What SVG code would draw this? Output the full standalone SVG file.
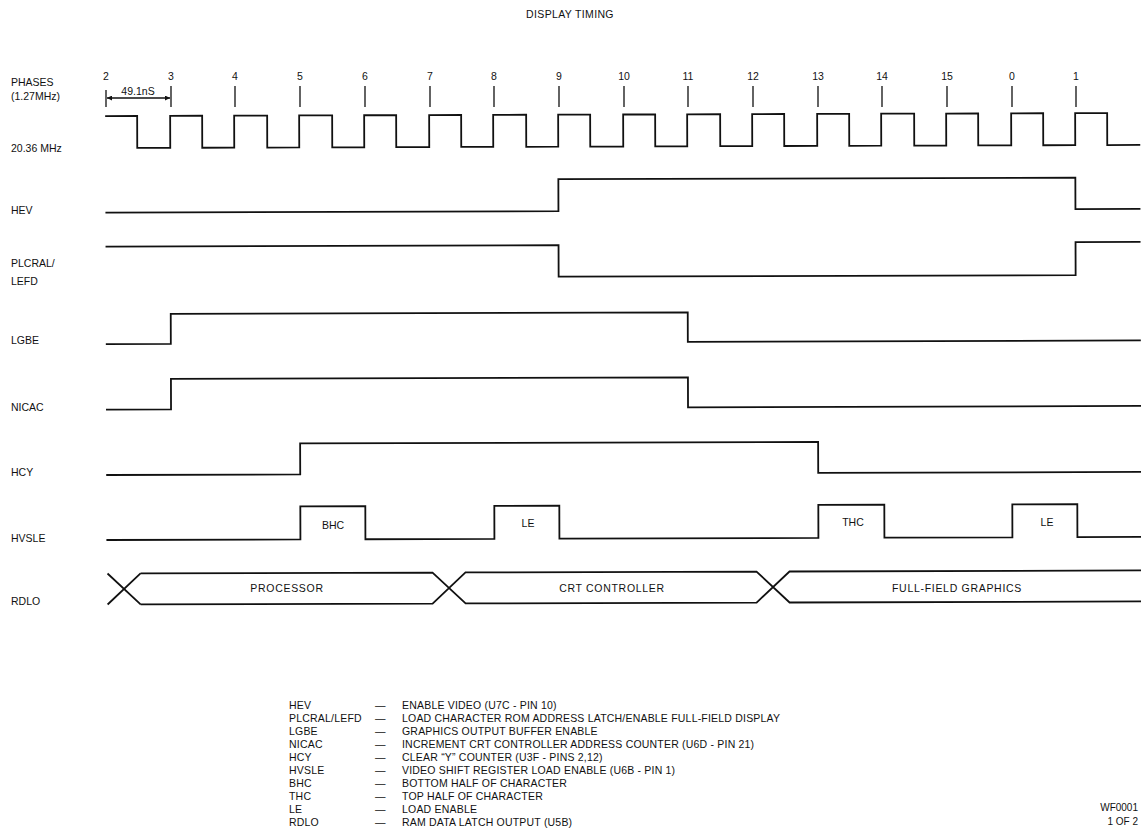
<svg xmlns="http://www.w3.org/2000/svg" width="1141" height="829" viewBox="0 0 1141 829">
<style>
text{font-family:"Liberation Sans",Arial,sans-serif;fill:#111;}
.lbl{font-size:10.5px;}
.num{font-size:10.5px;text-anchor:middle;}
.leg{font-size:10.5px;letter-spacing:0.2px;}
.bus{font-size:10.5px;letter-spacing:0.7px;text-anchor:middle;}
.ctr{text-anchor:middle;}
.w{fill:none;stroke:#111;stroke-width:1.8;stroke-linejoin:miter;}
.t{fill:none;stroke:#111;stroke-width:1.3;}
</style>
<defs>
<marker id="ah" viewBox="0 0 10 10" refX="10" refY="5" markerWidth="7" markerHeight="5" orient="auto-start-reverse" markerUnits="userSpaceOnUse">
<path d="M0,0 L10,5 L0,10 z" fill="#111"/>
</marker>
</defs>
<rect width="1141" height="829" fill="#fff"/>
<text x="570" y="18" class="ctr" style="font-size:10.5px;letter-spacing:0.35px">DISPLAY TIMING</text>

<g id="labels">
<text x="11" y="86" class="lbl">PHASES</text>
<text x="11" y="100" class="lbl">(1.27MHz)</text>
<text x="11" y="152" class="lbl">20.36 MHz</text>
<text x="11" y="214" class="lbl">HEV</text>
<text x="11" y="267" class="lbl">PLCRAL/</text>
<text x="11" y="285" class="lbl">LEFD</text>
<text x="11" y="344" class="lbl">LGBE</text>
<text x="11" y="411" class="lbl">NICAC</text>
<text x="11" y="476" class="lbl">HCY</text>
<text x="11" y="542" class="lbl">HVSLE</text>
<text x="11" y="605" class="lbl">RDLO</text>
</g>

<g id="phases">
<text x="106" y="80" class="num">2</text>
<text x="171" y="80" class="num">3</text>
<text x="235" y="80" class="num">4</text>
<text x="300" y="80" class="num">5</text>
<text x="365" y="80" class="num">6</text>
<text x="430" y="80" class="num">7</text>
<text x="494" y="80" class="num">8</text>
<text x="559" y="80" class="num">9</text>
<text x="624" y="80" class="num">10</text>
<text x="688" y="80" class="num">11</text>
<text x="753" y="80" class="num">12</text>
<text x="818" y="80" class="num">13</text>
<text x="882" y="80" class="num">14</text>
<text x="947" y="80" class="num">15</text>
<text x="1012" y="80" class="num">0</text>
<text x="1076" y="80" class="num">1</text>
<path class="t" d="M106,90V107 M171,86V107 M235,86V107 M300,86V107 M365,86V107 M430,86V107 M494,86V107 M559,86V107 M624,86V107 M688,86V107 M753,86V107 M818,86V107 M882,86V107 M947,86V107 M1012,86V107 M1076,86V107"/>
</g>

<g id="period">
<line x1="107" y1="98" x2="170" y2="98" class="t" marker-start="url(#ah)" marker-end="url(#ah)"/>
<text x="138" y="95" class="ctr" style="font-size:10.5px">49.1nS</text>
</g>

<g id="waveforms" transform="rotate(-0.17 620 400)">
<path id="clock" class="w" d="M106,114.5 H138 V146.5 H171 V114.5 H203 V146.5 H235 V114.5 H268 V146.5 H300 V114.5 H333 V146.5 H365 V114.5 H397 V146.5 H430 V114.5 H462 V146.5 H494 V114.5 H527 V146.5 H559 V114.5 H591 V146.5 H624 V114.5 H656 V146.5 H688 V114.5 H721 V146.5 H753 V114.5 H785 V146.5 H818 V114.5 H850 V146.5 H882 V114.5 H915 V146.5 H947 V114.5 H979 V146.5 H1012 V114.5 H1044 V146.5 H1076 V114.5 H1108 V146.5 H1141"/>
<path id="hev" class="w" d="M106,211 H559 V179 H1076 V210.5 H1141"/>
<path id="plcral" class="w" d="M106,245 H559 V276.5 H1076 V243.5 H1141"/>
<path id="lgbe" class="w" d="M106,342.5 H171 V312.5 H688 V342 H1141"/>
<path id="nicac" class="w" d="M106,408 H171 V377.5 H688 V407.5 H1141"/>
<path id="hcy" class="w" d="M106,473.5 H300 V442.5 H818 V473.5 H1141"/>
<path id="hvsle" class="w" d="M106,538.5 H300 V505.5 H365 V538.5 H494 V505.5 H559 V538.5 H818 V505.5 H884 V538.5 H1012 V505.5 H1077 V538.5 H1141"/>
<g id="rdlo">
<path class="w" d="M107,572 L140,603 M107,603 L140,572 M140,572 H432 L465,603 H756 L789,572 H1141 M140,603 H432 L465,572 H756 L789,603 H1141"/>
</g>
</g>

<g id="pulse-labels">
<text x="333" y="529" class="ctr lbl">BHC</text>
<text x="528" y="527" class="ctr lbl">LE</text>
<text x="853" y="526" class="ctr lbl">THC</text>
<text x="1047" y="526" class="ctr lbl">LE</text>
<text x="287" y="592" class="bus">PROCESSOR</text>
<text x="612" y="592" class="bus">CRT CONTROLLER</text>
<text x="957" y="592" class="bus">FULL-FIELD GRAPHICS</text>
</g>

<g id="legend">
<text x="289" y="709" class="leg">HEV</text><text x="375" y="709" class="leg">—</text><text x="402" y="709" class="leg">ENABLE VIDEO (U7C - PIN 10)</text>
<text x="289" y="722" class="leg">PLCRAL/LEFD</text><text x="375" y="722" class="leg">—</text><text x="402" y="722" class="leg">LOAD CHARACTER ROM ADDRESS LATCH/ENABLE FULL-FIELD DISPLAY</text>
<text x="289" y="735" class="leg">LGBE</text><text x="375" y="735" class="leg">—</text><text x="402" y="735" class="leg">GRAPHICS OUTPUT BUFFER ENABLE</text>
<text x="289" y="748" class="leg">NICAC</text><text x="375" y="748" class="leg">—</text><text x="402" y="748" class="leg">INCREMENT CRT CONTROLLER ADDRESS COUNTER (U6D - PIN 21)</text>
<text x="289" y="761" class="leg">HCY</text><text x="375" y="761" class="leg">—</text><text x="402" y="761" class="leg">CLEAR “Y” COUNTER (U3F - PINS 2,12)</text>
<text x="289" y="774" class="leg">HVSLE</text><text x="375" y="774" class="leg">—</text><text x="402" y="774" class="leg">VIDEO SHIFT REGISTER LOAD ENABLE (U6B - PIN 1)</text>
<text x="289" y="787" class="leg">BHC</text><text x="375" y="787" class="leg">—</text><text x="402" y="787" class="leg">BOTTOM HALF OF CHARACTER</text>
<text x="289" y="800" class="leg">THC</text><text x="375" y="800" class="leg">—</text><text x="402" y="800" class="leg">TOP HALF OF CHARACTER</text>
<text x="289" y="813" class="leg">LE</text><text x="375" y="813" class="leg">—</text><text x="402" y="813" class="leg">LOAD ENABLE</text>
<text x="289" y="826" class="leg">RDLO</text><text x="375" y="826" class="leg">—</text><text x="402" y="826" class="leg">RAM DATA LATCH OUTPUT (U5B)</text>
</g>

<g id="footer">
<text x="1138" y="811" style="font-size:10px;text-anchor:end">WF0001</text>
<text x="1138" y="825" style="font-size:10px;text-anchor:end">1 OF 2</text>
</g>
</svg>
